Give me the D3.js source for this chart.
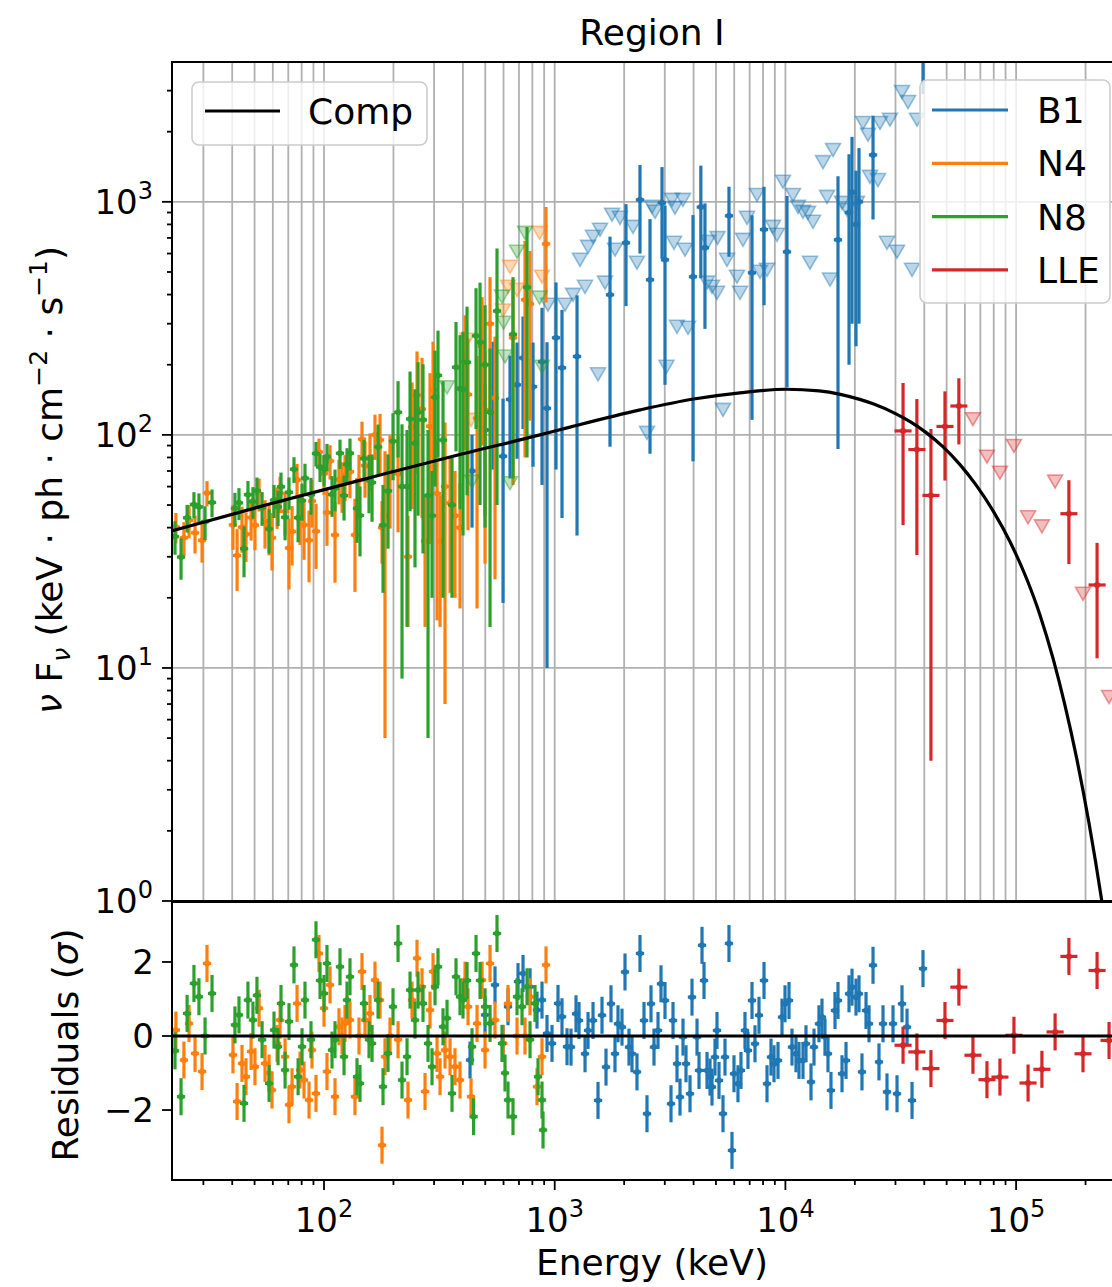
<!DOCTYPE html>
<html>
<head>
<meta charset="UTF-8">
<title>Region I</title>
<script src="https://cdn.jsdelivr.net/npm/d3@7"></script>
<style>
  body, html { margin: 0; padding: 0; background: #fff; }
  text { font-family: "DejaVu Sans", sans-serif; fill: #000; }
</style>
</head>
<body>
<script>
// ---- data (keV, keV ph cm^-2 s^-1) ----
// model curve (Comp)
const compE = [22, 58, 158, 400, 863, 1165, 2346, 4000, 6350, 10100, 14000, 17300, 21000, 24000, 30000, 35000, 40900, 48000, 57000, 67000, 79600, 94000, 111000, 127000, 145000, 163000, 183000, 207000, 235000, 260000];
const compF = [38.8, 50.5, 65.5, 83, 100, 108, 128, 142.5, 151.5, 157, 154.5, 149.3, 142, 135.9, 123.4, 113.4, 102, 89.2, 74.7, 61, 47.1, 34.9, 24.2, 16.85, 10.88, 6.89, 4.1, 2.16, 1.008, 0.507];

// detections: [E, value, error]
const b1Points = [[438.1,70,30],[498.9,105,60],[540.3,161,90],[597.0,81,62],[640.2,142,77],[686.5,164,85],[728.9,214,108],[805.4,161,88],[880.9,206,145],[926.0,130,120],[1013,261,190],[1075.5,194,150],[1249.5,217,180],[1736.6,399,310],[2037,667,310],[2342.5,1020,420],[2588.6,463,380],[2918.1,990,420],[3006.8,564,400],[3976.3,477,400],[4300,950,480],[4480,635,350],[5694,871,290],[7165,496,380],[8078,760,400],[10160,610,450],[16904,687,600],[18870,900,700],[19443,1100,800],[20230,800,560],[20845,1000,700],[23977,1590,750],[39489,6000,3100]];
const n4Points = [[22.8,40.2,6],[24.7,36.2,6],[26.0,43.0,7],[27.6,38.0,7],[29.6,35.3,7],[31.1,56.3,7],[40.3,41.1,9],[42.0,30.4,9],[44.1,40.2,9],[45.9,37.5,9],[48.3,44.2,9],[50.2,41.0,9],[52.3,55.9,9],[55.5,42.5,10],[57.8,40.4,10],[59.5,36.2,10],[62.6,49.5,10],[64.5,56.2,10],[67.8,47.0,10],[70.5,32.7,11],[72.7,38.5,11],[76.4,64.1,11],[78.7,44.7,11],[81.9,41.1,12],[86.1,35.3,12],[88.7,52.0,12],[92.3,38.6,12],[95.1,84.4,12],[100,68.2,13],[103,46.4,13],[106.2,77.3,13],[111.6,37.2,14],[116.1,64.3,14],[119.7,61.3,15],[123.3,66.9,15],[129.6,69.5,16],[136.2,37.2,16],[141.8,64.1,18],[146.1,95.9,18],[150.6,73.8,20],[158.2,79.4,22],[166.3,100.1,22],[174.9,95.1,28],[178.4,40,12],[183.8,45,40],[193.2,69.6,30],[209.4,68.2,30],[231.2,30,15],[240.7,108,60],[253.0,148,80],[266.0,129,85],[274.1,35,20],[288.1,109,75],[296.9,156,95],[309.0,56,40],[318.4,35,20],[334.6,60,53],[351.8,51,30],[369.7,45,25],[388.6,40,22],[408.6,206,120],[421.0,149,110],[460.6,118,100],[484.2,240,150],[498.9,128,100],[524.4,300,175],[551.1,144,120],[659.5,261,200],[743.4,380,300],[781.6,365,250],[916.9,660,290]];
const n8Points = [[22.6,36.6,6],[24.0,29.9,6],[25.5,44.1,6],[27.3,50.3,6.5],[28.7,49.1,7],[30.5,42.4,7],[32.7,51.3,7],[41.1,48.4,8],[42.8,51.1,8],[45.0,32.5,8],[46.8,55.4,8],[49.2,51.7,8],[51.2,57.6,8],[53.9,48.7,8],[57.8,39.5,8.5],[60.7,52.5,8.5],[63.2,49.1,8.5],[65.1,59.9,9],[67.8,44.3,9],[70.5,56.7,9],[74.1,71.2,9],[77.2,44.1,9.5],[80.3,52.3,9.5],[82.7,65.2,10],[87.8,55.4,10],[92.3,83.2,10],[96.1,72.8,10],[100,71.1,11],[103,80.5,11],[108.3,55.5,11],[111.6,59.0,12],[117.3,83.4,12],[122.1,54.9,12],[125.8,74.7,13],[129.6,83.4,13],[139,48.4,14],[143.2,45.1,15],[149.1,79.1,16],[156.7,64.1,18],[161.5,62.4,20],[171.5,88.8,22],[180.2,41,20],[189.4,57.5,25],[199.1,93.9,30],[209.4,125,45],[217.8,60,51],[229,60,45],[236,117,70],[248,92,65],[255.6,125,80],[268.6,116,85],[282.4,55,50],[293.9,45,25],[302.8,145,85],[312,180,100],[328,95,75],[358.8,50,30],[373.4,195,110],[388.6,158,110],[400.4,157,120],[416.8,205,150],[456,266,160],[474.6,250,200],[498.9,200,160],[524.4,125,110],[562.2,340,290],[659.5,270,205],[758.6,430,350]];
const llePoints = [[32360,104,63],[37150,86.5,56],[42750,55,51],[49170,108.7,45],[56490,133,42],[169400,45.9,18],[224400,22.7,11.7]];

// upper limits: [E, value]
const b1Limits = [[935.4,362],[1108.3,362],[1200.5,399],[1287.2,564],[1353.4,432],[1394.5,641],[1465.8,708],[1540.8,182],[1572,759],[1652,450],[1771.6,880],[1825.4,623],[1918.6,854],[2185,781],[2273.4,548],[2512.3,102],[2641,952],[2722,906],[3050,196],[3224,1020],[3322,943],[3290,667],[3389.5,291],[3598.6,1020],[3671,623],[3783,288],[4573,450],[4618,673],[4806,432],[5052,407],[5080,700],[5364,128],[5582,564],[6168,477],[6356,407],[6549,687],[6816,854],[7531,1070],[7761,501],[8323,511],[8837,781],[9196,722],[9763,1220],[10787,1070],[11340,952],[11920,906],[12531,897],[12783,548],[13171,821],[14555,1480],[15149,1050],[15610,464],[16085,1670],[17596,990],[18495,924],[20434,990],[21696,2180],[22804,1940],[23265,1280],[25200,1240],[25704,2180],[27566,667],[28400,2250],[30469,611],[32022,2960],[34000,2680],[35394,511],[37190,2250]];
const n4Limits = [[417,256],[433.8,116],[597,342],[627.4,432],[640,526],[686.5,419],[860,736],[880.9,477]];
const n8Limits = [[341.4,160],[438.1,63],[590.9,392],[600,303],[608.9,217],[640,62],[686.5,611],[743,736],[860,388],[880.9,196]];
const lleLimits = [[65010,116.7],[74770,80.6],[85110,68.8],[97900,89.6],[112700,44.3],[129400,40.5],[147600,63],[195000,20.8],[252900,7.5]];

// residuals: [E, sigma]
const b1Res = [[429.5,-0.65],[498.9,0.57],[551.1,1.38],[597.0,-0.2],[627.4,0.79],[693.3,1.47],[728.9,1.69],[781.6,1.33],[838.0,0.7],[880.9,0.97],[926.0,0.07],[973.4,-0.2],[1033.5,0.88],[1075.5,0.52],[1130.8,-0.29],[1176.8,-0.3],[1237,0.6],[1274.6,0.42],[1353.4,-0.48],[1394.5,0.15],[1465.8,0.42],[1540.8,-1.74],[1603.2,0.56],[1668.7,-0.84],[1753.9,0.87],[1825.4,-0.48],[1880.8,0.33],[1957.4,0.24],[2016.9,1.73],[2099.1,-0.3],[2162.9,-0.48],[2273.4,-0.97],[2342.5,2.23],[2438.2,0.42],[2512.3,-2.1],[2614.6,0.87],[2694,-0.3],[2804,0.15],[2889.2,1.41],[3006.8,0.96],[3192.4,-1.83],[3257,0.42],[3389.5,-0.75],[3492.5,-1.65],[3598.6,-0.03],[3707.9,-0.75],[3859.3,-1.56],[3936.9,1.05],[4139,-0.03],[4222.5,-0.93],[4350.8,2.45],[4438,1.5],[4573,-0.93],[4712,-1.11],[4806,-1.38],[4952,-0.57],[5052,0.15],[5154,-1.2],[5364,-2.1],[5472,-0.57],[5694,2.5],[5867,-3.09],[5986,-1.02],[6229,-1.29],[6418,-0.93],[6680,0.15],[6883,-0.39],[7165,0.96],[7382,-0.21],[7683,0.56],[8078,1.5],[8323,-1.29],[8661,-0.57],[8924,-0.75],[9288,-0.66],[9667,0.51],[9961,0.87],[10366,0.96],[10681,-0.3],[11115,-0.48],[11453,-0.66],[11920,-0.66],[12282,-0.21],[12912,-1.24],[13305,-0.3],[13983,0.33],[14408,0.51],[14845,-0.03],[15296,-0.48],[15760,-1.47],[16406,0.69],[16904,0.96],[17596,-1.02],[18313,-0.66],[18870,1.14],[19443,1.32],[20230,1.05],[20845,1.14],[21478,-0.97],[22360,0.69],[23039,0.33],[23977,1.91],[25449,-0.7],[26494,0.33],[27566,-1.51],[29272,0.33],[30469,-1.56],[32022,0.87],[33668,0.24],[35394,-1.74],[39489,1.82]];
const n4Res = [[22.8,0.16],[24.7,-0.65],[26.0,0.34],[27.6,-0.47],[29.6,-0.96],[31.1,1.96],[40.3,-0.51],[42.0,-1.77],[44.1,-0.74],[45.9,-1.1],[48.3,-0.42],[50.2,-0.83],[52.3,0.75],[55.5,-0.74],[57.8,-1.0],[59.5,-1.46],[62.6,-0.2],[64.5,0.43],[67.8,-0.56],[70.5,-1.86],[72.7,-1.37],[76.4,0.88],[78.7,-0.92],[81.9,-1.19],[86.1,-1.73],[88.7,-0.38],[92.3,-1.55],[95.1,2.23],[100,0.75],[103,-0.96],[106.2,1.38],[111.6,-1.64],[116.1,0.25],[119.7,0],[123.3,0.34],[129.6,0.43],[136.2,-1.64],[141.8,0],[146.1,1.74],[150.6,0.43],[158.2,0.61],[166.3,1.51],[174.9,0.97],[178.4,-2.95],[183.8,-0.56],[193.2,0],[209.4,-0.1],[231.2,-1.73],[240.7,0.97],[253.0,2.1],[266.0,1.33],[274.1,-1.5],[288.1,0.7],[296.9,1.74],[309.0,-0.47],[318.4,-1.1],[334.6,-0.38],[351.8,-0.56],[369.7,-0.83],[388.6,-1.19],[408.6,1.51],[421.0,0.79],[433.8,-1.64],[460.6,0.34],[484.2,1.51],[498.9,-0.38],[524.4,1.96],[551.1,0.43],[597.0,-0.2],[627.4,0.88],[686.5,0],[743.4,0],[781.6,1.06],[838.0,-1.37],[880.9,-0.56],[916.9,1.92]];
const n8Res = [[22.6,-0.4],[24.0,-1.64],[25.5,0.61],[27.3,1.42],[28.7,1.06],[30.5,0],[32.7,1.15],[41.1,0.3],[42.8,0.57],[45.0,-1.82],[46.8,0.97],[49.2,0.43],[51.2,1.1],[53.9,-0.1],[57.8,-1.28],[60.7,0.16],[63.2,-0.29],[65.1,0.88],[67.8,-0.92],[70.5,0.39],[74.1,1.92],[77.2,-1.1],[80.3,-0.29],[82.7,0.97],[87.8,-0.1],[92.3,2.6],[96.1,1.5],[100,1.15],[103,1.96],[108.3,-0.38],[111.6,-0.1],[117.3,1.87],[122.1,-0.56],[125.8,0.97],[129.6,1.6],[139,-1.1],[143.2,-1.28],[149.1,0.88],[156.7,-0.1],[161.5,-0.2],[171.5,0.97],[180.2,-1.37],[189.4,-0.47],[199.1,0.79],[209.4,2.5],[217.8,-1.19],[229,-0.56],[236,1.24],[248,0.43],[255.6,1.24],[268.6,0.88],[282.4,-0.2],[293.9,-0.83],[302.8,1.33],[312,1.87],[328,0.25],[341.4,0.48],[358.8,-1.55],[373.4,1.6],[388.6,1.06],[400.4,0.97],[416.8,1.5],[438.1,-0.29],[445,-2.18],[456,2.23],[474.6,1.5],[498.9,0.79],[524.4,0.34],[562.2,2.77],[590.9,-0.2],[608.9,-1.0],[627.4,-1.73],[659.5,-2.18],[686.5,1.06],[721.7,0.79],[758.6,1.33],[781.6,-0.1],[821.6,0.88],[846.6,-1.1],[880.9,-1.73],[890,-2.54]];
const lleRes = [[32360,-0.25],[37150,-0.43],[42750,-0.88],[49170,0.42],[56490,1.32],[65010,-0.52],[74770,-1.18],[85110,-1.11],[97900,0.02],[112700,-1.27],[129400,-0.9],[147600,0.11],[169400,2.15],[195000,-0.48],[224400,1.77],[252900,-0.12]];

const resErr = 0.5;                     // residual error bar half length (sigma)
const yTickVals = [1, 10, 100, 1000];
const xTickVals = [100, 1000, 10000, 100000];
const resTicks = [-2, 0, 2];

// series: name, colour, half bin width (dex)
const series = [
  {name: 'B1',  color: '#1f77b4', dex: 0.018, pts: b1Points, ul: b1Limits, res: b1Res},
  {name: 'N4',  color: '#ff7f0e', dex: 0.018, pts: n4Points, ul: n4Limits, res: n4Res},
  {name: 'N8',  color: '#2ca02c', dex: 0.018, pts: n8Points, ul: n8Limits, res: n8Res},
  {name: 'LLE', color: '#d62728', dex: 0.037, pts: llePoints, ul: lleLimits, res: lleRes}
];

// ---- layout ----
const W = 1112, H = 1287;
const pL = 172, pR = 1132, pT = 62, pM = 901, rT = 902, pB = 1180;

const svg = d3.select('body').append('svg')
  .attr('width', W).attr('height', H)
  .style('background', '#fff');

const x = d3.scaleLog().domain([21.93, 3.18e5]).range([pL, pR]);
const y = d3.scaleLog().domain([1, 3981]).range([pM, pT]);
const yr = d3.scaleLinear().domain([-3.89, 3.62]).range([pB, rT]);

const defs = svg.append('defs');
defs.append('clipPath').attr('id', 'clipTop')
  .append('rect').attr('x', pL).attr('y', pT).attr('width', pR - pL).attr('height', pM - pT);
defs.append('clipPath').attr('id', 'clipRes')
  .append('rect').attr('x', pL).attr('y', rT).attr('width', pR - pL).attr('height', pB - rT);

// all log ticks (1..9 x 10^k) inside a domain
function logTicks(scale) {
  const [a, b] = scale.domain();
  const out = [];
  for (let p = -1; p <= 6; p++) {
    for (let k = 1; k <= 9; k++) {
      const v = k * Math.pow(10, p);
      if (v >= a * 0.999 && v <= b * 1.001) out.push({v: v, major: k === 1});
    }
  }
  return out;
}

// ---- grid (upper panel) ----
const grid = svg.append('g').attr('stroke', '#b0b0b0').attr('stroke-width', 1.8);
logTicks(x).forEach(t => {
  grid.append('line').attr('x1', x(t.v)).attr('x2', x(t.v)).attr('y1', pT).attr('y2', pM);
});
[10, 100, 1000].forEach(v => {
  grid.append('line').attr('x1', pL).attr('x2', pR).attr('y1', y(v)).attr('y2', y(v));
});

// ---- data marks ----
const topG = svg.append('g').attr('clip-path', 'url(#clipTop)');
const resG = svg.append('g').attr('clip-path', 'url(#clipRes)');

function tri(cx, cy) {
  return `M${cx - 7.5},${cy - 6.5}L${cx + 7.5},${cy - 6.5}L${cx},${cy + 6.5}Z`;
}

series.forEach(s => {
  const f = Math.pow(10, s.dex);
  // upper limits
  topG.append('g').selectAll('path').data(s.ul).join('path')
    .attr('d', d => tri(x(d[0]), y(d[1])))
    .attr('fill', s.color).attr('fill-opacity', 0.3)
    .attr('stroke', s.color).attr('stroke-opacity', 0.45).attr('stroke-width', 1.6);

  const g = topG.append('g').attr('stroke', s.color).attr('stroke-width', 3.2);
  g.selectAll('line.v').data(s.pts).join('line').attr('class', 'v')
    .attr('x1', d => x(d[0])).attr('x2', d => x(d[0]))
    .attr('y1', d => y(Math.max(d[1] - d[2], 0.3))).attr('y2', d => y(d[1] + d[2]));
  g.selectAll('line.h').data(s.pts).join('line').attr('class', 'h')
    .attr('x1', d => x(d[0] / f)).attr('x2', d => x(d[0] * f))
    .attr('y1', d => y(d[1])).attr('y2', d => y(d[1]));
  g.selectAll('circle').data(s.pts).join('circle')
    .attr('cx', d => x(d[0])).attr('cy', d => y(d[1])).attr('r', 3)
    .attr('fill', s.color).attr('stroke', 'none');

  // residuals
  const r = resG.append('g').attr('stroke', s.color).attr('stroke-width', 3.2);
  r.selectAll('line.v').data(s.res).join('line').attr('class', 'v')
    .attr('x1', d => x(d[0])).attr('x2', d => x(d[0]))
    .attr('y1', d => yr(d[1] - resErr)).attr('y2', d => yr(d[1] + resErr));
  r.selectAll('line.h').data(s.res).join('line').attr('class', 'h')
    .attr('x1', d => x(d[0] / f)).attr('x2', d => x(d[0] * f))
    .attr('y1', d => yr(d[1])).attr('y2', d => yr(d[1]));
  r.selectAll('circle').data(s.res).join('circle')
    .attr('cx', d => x(d[0])).attr('cy', d => yr(d[1])).attr('r', 3)
    .attr('fill', s.color).attr('stroke', 'none');
});

// model curve
const line = d3.line().x(d => x(d[0])).y(d => y(d[1])).curve(d3.curveMonotoneX);
topG.append('path')
  .datum(compE.map((e, i) => [e, compF[i]]))
  .attr('d', line)
  .attr('fill', 'none').attr('stroke', '#000').attr('stroke-width', 3.2);

// zero line in residuals
resG.append('line')
  .attr('x1', pL).attr('x2', pR).attr('y1', yr(0)).attr('y2', yr(0))
  .attr('stroke', '#000').attr('stroke-width', 3.2);

// ---- spines ----
const sp = svg.append('g').attr('stroke', '#000').attr('stroke-width', 2).attr('fill', 'none');
sp.append('path').attr('d', `M${pR},${pT}H${pL}V${pM}H${pR}`);
sp.append('path').attr('d', `M${pR},${rT}H${pL}V${pB}H${pR}`);

// ---- ticks ----
const tk = svg.append('g').attr('stroke', '#000').attr('stroke-width', 1.8);
logTicks(y).forEach(t => {
  tk.append('line').attr('x1', pL).attr('x2', pL - (t.major ? 10 : 5))
    .attr('y1', y(t.v)).attr('y2', y(t.v));
});
logTicks(x).forEach(t => {
  tk.append('line').attr('x1', x(t.v)).attr('x2', x(t.v))
    .attr('y1', pB).attr('y2', pB + (t.major ? 10 : 5));
});
resTicks.forEach(v => {
  tk.append('line').attr('x1', pL).attr('x2', pL - 10).attr('y1', yr(v)).attr('y2', yr(v));
});

function powLabel(sel, k) {
  sel.append('tspan').text('10');
  sel.append('tspan').attr('dy', -15).attr('font-size', 24).text(k);
}

yTickVals.forEach(v => {
  const t = svg.append('text').attr('x', 153).attr('y', y(v) + 12)
    .attr('text-anchor', 'end').attr('font-size', 34);
  powLabel(t, Math.round(Math.log10(v)));
});
xTickVals.forEach(v => {
  const t = svg.append('text').attr('x', x(v)).attr('y', 1232)
    .attr('text-anchor', 'middle').attr('font-size', 34);
  powLabel(t, Math.round(Math.log10(v)));
});
resTicks.forEach(v => {
  svg.append('text').attr('x', 154).attr('y', yr(v) + 12)
    .attr('text-anchor', 'end').attr('font-size', 34)
    .text(v < 0 ? '\u2212' + Math.abs(v) : String(v));
});

// ---- labels ----
svg.append('text').attr('x', 652).attr('y', 45).attr('text-anchor', 'middle')
  .attr('font-size', 36).text('Region I');
svg.append('text').attr('x', 652).attr('y', 1275).attr('text-anchor', 'middle')
  .attr('font-size', 36).text('Energy (keV)');

const yl = svg.append('text').attr('transform', 'translate(62,480) rotate(-90)')
  .attr('text-anchor', 'middle').attr('font-size', 36);
yl.append('tspan').attr('font-style', 'italic').text('\u03bd');
yl.append('tspan').text(' F');
yl.append('tspan').attr('dy', 8).attr('font-size', 25).attr('font-style', 'italic').text('\u03bd');
yl.append('tspan').attr('dy', -8).text(' (keV \u00b7 ph \u00b7 cm');
yl.append('tspan').attr('dy', -15).attr('font-size', 25).text('\u22122');
yl.append('tspan').attr('dy', 15).text(' \u00b7 s');
yl.append('tspan').attr('dy', -15).attr('font-size', 25).text('\u22121');
yl.append('tspan').attr('dy', 15).text(')');

const rl = svg.append('text').attr('transform', 'translate(78,1045) rotate(-90)')
  .attr('text-anchor', 'middle').attr('font-size', 36);
rl.append('tspan').text('Residuals (');
rl.append('tspan').attr('font-style', 'italic').text('\u03c3');
rl.append('tspan').text(')');

// ---- legends ----
const lg1 = svg.append('g');
lg1.append('rect').attr('x', 192).attr('y', 82).attr('width', 235).attr('height', 63).attr('rx', 7)
  .attr('fill', '#fff').attr('fill-opacity', 0.8).attr('stroke', '#cccccc').attr('stroke-width', 1.6);
lg1.append('line').attr('x1', 205).attr('x2', 280).attr('y1', 111).attr('y2', 111)
  .attr('stroke', '#000').attr('stroke-width', 3.2);
lg1.append('text').attr('x', 308).attr('y', 124).attr('font-size', 36).text('Comp');

const lg2 = svg.append('g');
lg2.append('rect').attr('x', 920).attr('y', 80).attr('width', 190).attr('height', 223).attr('rx', 7)
  .attr('fill', '#fff').attr('fill-opacity', 0.8).attr('stroke', '#cccccc').attr('stroke-width', 1.6);
series.forEach((s, i) => {
  const ly = 110 + i * 53.3;
  lg2.append('line').attr('x1', 932).attr('x2', 1008).attr('y1', ly).attr('y2', ly)
    .attr('stroke', s.color).attr('stroke-width', 3.2);
  lg2.append('text').attr('x', 1037).attr('y', ly + 13).attr('font-size', 36).text(s.name);
});
</script>
</body>
</html>
